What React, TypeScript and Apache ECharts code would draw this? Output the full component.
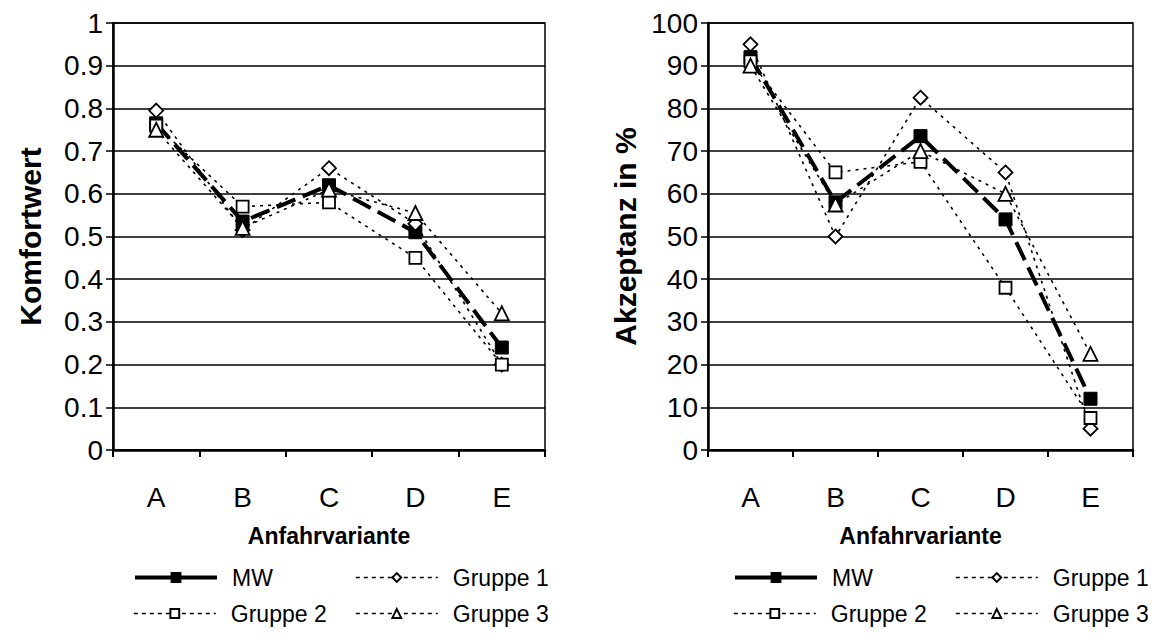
import React, { useEffect, useRef } from "react";
import * as echarts from "echarts";

// Categories (Anfahrvariante)
const categories = ["A", "B", "C", "D", "E"];

// Komfortwert (left chart)
const komfortMW = [0.765, 0.535, 0.62, 0.51, 0.24];
const komfortG1 = [0.795, 0.515, 0.66, 0.53, 0.2];
const komfortG2 = [0.76, 0.57, 0.58, 0.45, 0.2];
const komfortG3 = [0.75, 0.52, 0.61, 0.555, 0.32];

// Akzeptanz in % (right chart)
const akzeptanzMW = [92, 58, 73.5, 54, 12];
const akzeptanzG1 = [95, 50, 82.5, 65, 5];
const akzeptanzG2 = [91, 65, 67.5, 38, 7.5];
const akzeptanzG3 = [90, 57.5, 70, 60, 22.5];

const seriesNames = ["MW", "Gruppe 1", "Gruppe 2", "Gruppe 3"];

const FONT = "'Liberation Sans', Arial, sans-serif";
const BLACK = "#000";

const styleFor = (name: string) => {
  if (name === "MW") {
    return {
      symbol: "rect",
      symbolSize: 13,
      itemStyle: { color: BLACK, borderColor: BLACK, borderWidth: 1 },
      lineStyle: { color: BLACK, width: 4, type: [20, 8] as any },
    };
  }
  const symbol =
    name === "Gruppe 1" ? "diamond" : name === "Gruppe 2" ? "rect" : "triangle";
  return {
    symbol,
    symbolSize: name === "Gruppe 2" ? 12 : 14,
    itemStyle: { color: "#fff", borderColor: BLACK, borderWidth: 1.8 },
    lineStyle: { color: BLACK, width: 1.6, type: [3, 5] as any },
  };
};

const makeSeries = (gridIdx: number, values: number[][]) =>
  seriesNames.map((name, i) => ({
    name,
    type: "line",
    xAxisIndex: gridIdx,
    yAxisIndex: gridIdx,
    data: values[i],
    showSymbol: true,
    z: 2 + i,
    ...styleFor(name),
  }));

const xAxisFor = (gridIdx: number) => ({
  type: "category",
  gridIndex: gridIdx,
  data: categories,
  boundaryGap: true,
  axisLine: { show: true, lineStyle: { color: BLACK, width: 2.5 } },
  axisTick: { show: true, length: 7, lineStyle: { color: BLACK, width: 2 } },
  axisLabel: { color: BLACK, fontSize: 28, fontFamily: FONT, margin: 33 },
  splitLine: { show: false },
  name: "Anfahrvariante",
  nameLocation: "middle",
  nameGap: 74,
  nameTextStyle: {
    color: BLACK,
    fontSize: 23,
    fontWeight: "bold",
    fontFamily: FONT,
  },
});

const yAxisFor = (
  gridIdx: number,
  max: number,
  interval: number,
  name: string,
  decimals: number
) => ({
  type: "value",
  gridIndex: gridIdx,
  min: 0,
  max,
  interval,
  axisLine: { show: true, lineStyle: { color: BLACK, width: 2.5 } },
  axisTick: { show: true, length: 7, lineStyle: { color: BLACK, width: 1.5 } },
  axisLabel: {
    color: BLACK,
    fontSize: 28,
    fontFamily: FONT,
    margin: 10,
    formatter: (v: number) => String(Number(v.toFixed(decimals))),
  },
  splitLine: { show: true, lineStyle: { color: BLACK, width: 1.5 } },
  name,
  nameLocation: "middle",
  nameGap: 68,
  nameRotate: 90,
  nameTextStyle: {
    color: BLACK,
    fontSize: 30,
    fontWeight: "bold",
    fontFamily: FONT,
  },
});

// One legend block per entry so the columns line up like a 2x2 table
const legendFor = (offsetX: number) => {
  const cells = [
    { name: "MW", left: 133, top: 566 },
    { name: "Gruppe 1", left: 355, top: 566 },
    { name: "Gruppe 2", left: 133, top: 602 },
    { name: "Gruppe 3", left: 355, top: 602 },
  ];
  return cells.map((c) => ({
    data: [c.name],
    left: c.left + offsetX,
    top: c.top,
    orient: "horizontal",
    itemWidth: 82,
    itemHeight: 11,
    selectedMode: false,
    padding: 0,
    lineStyle:
      c.name === "MW"
        ? { type: "solid", width: 4 }
        : { type: [4, 4], width: 1.6 },
    textStyle: {
      color: BLACK,
      fontSize: 23,
      fontFamily: FONT,
      padding: [0, 0, 0, 10],
    },
  }));
};

export default function App() {
  const ref = useRef<HTMLDivElement>(null);

  useEffect(() => {
    if (!ref.current) return;
    const chart = echarts.init(ref.current, undefined, { renderer: "svg" });
    chart.setOption({
      animation: false,
      backgroundColor: "#fff",
      textStyle: { fontFamily: FONT },
      grid: [
        {
          left: 113,
          top: 23,
          width: 432,
          height: 427,
          show: true,
          borderColor: BLACK,
          borderWidth: 1.5,
          backgroundColor: "transparent",
        },
        {
          left: 708,
          top: 23,
          width: 425,
          height: 427,
          show: true,
          borderColor: BLACK,
          borderWidth: 1.5,
          backgroundColor: "transparent",
        },
      ],
      xAxis: [xAxisFor(0), xAxisFor(1)],
      yAxis: [
        yAxisFor(0, 1, 0.1, "Komfortwert", 1),
        yAxisFor(1, 100, 10, "Akzeptanz in %", 0),
      ],
      legend: [...legendFor(0), ...legendFor(600)],
      series: [
        ...makeSeries(0, [komfortMW, komfortG1, komfortG2, komfortG3]),
        ...makeSeries(1, [akzeptanzMW, akzeptanzG1, akzeptanzG2, akzeptanzG3]),
      ],
    });
    return () => chart.dispose();
  }, []);

  return (
    <div
      ref={ref}
      style={{
        position: "absolute",
        left: 0,
        top: 0,
        width: 1163,
        height: 634,
        background: "#fff",
      }}
    />
  );
}
